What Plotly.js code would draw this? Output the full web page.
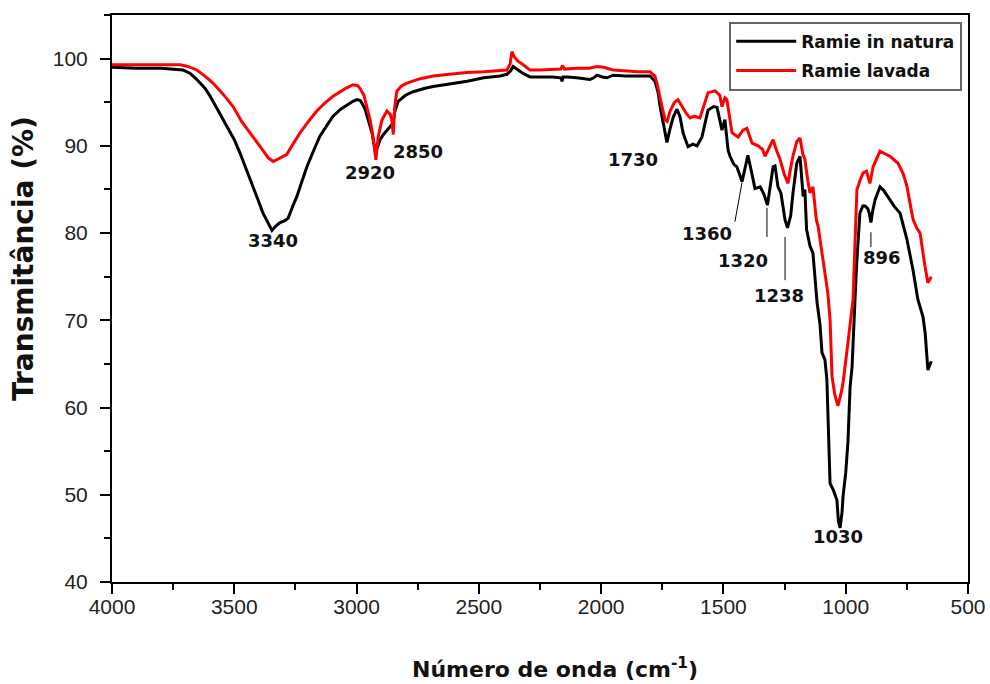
<!DOCTYPE html>
<html>
<head>
<meta charset="utf-8">
<script src="https://cdn.plot.ly/plotly-3.0.1.min.js"></script>
<style>
html,body{margin:0;padding:0;background:#fff;}
#chart{width:990px;height:684px;}
</style>
</head>
<body>
<div id="chart"></div>
<script>
// Ramie in natura (black)
const naturaWave = [4000,3900,3800,3750,3710,3680,3653,3620,3599,3565,3530,3500,3477,3450,3423,3400,3383,3360,3346,3330,3313,3295,3280,3262,3244,3225,3203,3175,3150,3120,3096,3065,3039,3015,2998,2985,2978,2965,2957,2945,2937,2928,2922,2915,2904,2890,2876,2862,2851,2845,2830,2800,2769,2720,2687,2620,2548,2480,2413,2385,2370,2360,2345,2319,2291,2250,2200,2165,2160,2155,2140,2100,2060,2046,2030,2017,1995,1976,1951,1900,1850,1800,1780,1767,1759,1747,1731,1718,1705,1690,1678,1665,1645,1625,1608,1588,1563,1540,1526,1506,1494,1481,1473,1458,1445,1424,1412,1400,1385,1371,1350,1335,1320,1297,1289,1277,1265,1248,1238,1225,1216,1200,1187,1174,1167,1160,1146,1134,1117,1105,1097,1085,1077,1072,1064,1050,1036,1030,1023,1015,1011,1000,991,982,974,962,955,942,930,921,910,903,897,890,880,860,845,819,800,778,765,750,725,705,684,675,664,655,650];
const naturaT = [99.0,98.9,98.9,98.8,98.7,98.3,97.6,96.6,95.7,94.0,92.2,90.7,89.2,87.3,85.3,83.6,82.3,81.0,80.3,80.8,81.2,81.4,81.7,83.0,84.2,85.8,87.6,89.5,91.1,92.4,93.4,94.2,94.7,95.1,95.3,95.2,94.9,94.2,93.4,92.4,91.5,90.2,89.5,89.8,90.7,91.3,91.8,92.3,92.6,93.8,95.1,95.8,96.2,96.6,96.8,97.1,97.4,97.8,98.0,98.2,98.6,99.1,98.8,98.3,97.9,97.9,97.9,97.8,97.4,97.9,97.9,97.8,97.7,97.6,97.8,98.1,97.9,97.8,98.1,98.0,98.0,98.0,97.4,96.1,94.5,92.6,90.4,92.0,93.3,94.2,93.4,91.5,89.9,90.2,90.0,91.0,94.1,94.5,94.4,91.8,93.0,89.5,88.8,87.9,87.6,85.9,87.5,88.9,87.0,85.1,85.3,84.5,83.2,87.6,87.7,85.3,84.6,81.5,80.6,82.0,84.5,88.0,88.8,84.2,85.0,80.4,78.5,77.7,72.0,69.5,66.3,65.5,63.2,58.6,51.3,50.5,49.4,47.0,46.2,48.0,49.8,52.5,56.0,62.4,64.7,72.4,76.6,82.3,83.1,83.1,82.8,82.2,81.2,82.5,83.8,85.3,84.9,83.8,83.0,82.3,81.0,79.3,75.8,72.4,70.4,68.5,64.3,65.1,65.3];

// Ramie lavada (red)
const lavadaWave = [4000,3900,3800,3720,3690,3653,3620,3587,3545,3505,3470,3436,3410,3383,3360,3341,3320,3286,3260,3231,3200,3163,3130,3096,3050,3015,2995,2986,2970,2957,2945,2937,2928,2921,2912,2896,2876,2862,2855,2850,2844,2835,2815,2794,2740,2687,2620,2548,2480,2413,2385,2372,2365,2355,2340,2319,2291,2250,2200,2165,2158,2150,2100,2050,2017,1990,1951,1900,1850,1800,1780,1772,1759,1751,1739,1730,1718,1700,1686,1665,1649,1636,1620,1596,1580,1563,1534,1515,1506,1494,1486,1475,1465,1440,1420,1404,1383,1358,1340,1330,1310,1297,1283,1269,1252,1236,1225,1216,1200,1187,1175,1167,1155,1146,1134,1120,1113,1093,1080,1073,1064,1056,1045,1032,1020,1011,991,970,962,954,942,929,915,901,888,870,860,840,819,786,765,750,725,710,696,676,664,650];
const lavadaT = [99.3,99.3,99.3,99.3,99.1,98.7,98.0,97.2,95.9,94.5,92.8,91.5,90.4,89.4,88.6,88.2,88.5,89.0,90.2,91.5,92.7,94.0,94.9,95.7,96.5,97.0,96.9,96.6,95.8,94.5,93.0,91.8,90.0,88.4,91.0,93.0,94.0,93.6,92.8,91.3,94.5,96.3,96.9,97.2,97.7,98.0,98.2,98.4,98.5,98.7,98.7,99.4,100.8,100.2,99.7,99.3,98.7,98.7,98.8,98.8,99.2,98.8,98.9,98.9,99.1,99.0,98.7,98.6,98.5,98.5,98.0,97.2,95.7,94.5,93.0,92.8,94.0,95.0,95.3,94.3,93.6,93.2,93.4,93.2,94.5,96.1,96.3,95.8,94.5,95.5,95.3,93.0,91.5,91.0,91.8,92.0,90.3,90.0,89.6,88.8,90.0,90.7,89.5,88.5,86.8,85.7,87.5,88.8,90.5,90.9,89.0,88.5,86.0,84.6,85.3,81.5,80.8,77.0,74.5,73.1,70.1,63.6,61.5,60.2,61.5,62.8,67.4,72.4,79.0,85.0,86.0,86.9,87.1,85.7,87.6,88.8,89.4,89.1,88.8,88.0,86.8,85.4,81.6,80.6,80.0,76.2,74.3,75.0];

// Peak labels
const peakLabels = ['3340','2920','2850','1730','1360','1320','1238','896','1030'];
const xTickVals = [4000,3500,3000,2500,2000,1500,1000,500];
const yTickVals = [40,50,60,70,80,90,100];
const xTitle = 'Número de onda (cm<sup>-1</sup>)';
const yTitle = 'Transmitância (%)';

const FONT = 'Arial, "Liberation Sans", sans-serif';
const WIDE = '"DejaVu Sans", Verdana, sans-serif';

const traces = [
  {x: naturaWave, y: naturaT, type: 'scatter', mode: 'lines', name: 'Ramie in natura',
   legendgroup: 'a', line: {color: '#000000', width: 3}},
  {x: lavadaWave, y: lavadaT, type: 'scatter', mode: 'lines', name: 'Ramie lavada',
   legendgroup: 'b', line: {color: '#ff0000', width: 3}}
];

// label placements (layout only)
const labelPos = [[3340,79.1],[2945,87.0],[2749,89.3],[1870,88.4],[1567,79.9],[1420,76.8],[1273,72.8],[852,77.2],[1032,45.2]];
const annotations = peakLabels.map((t,i)=>({
  x: labelPos[i][0], y: labelPos[i][1], xref:'x', yref:'y', text: t, showarrow:false,
  font:{family: WIDE, size: 18, color:'#111', weight: 'bold'}, xanchor:'center', yanchor:'middle'
}));
annotations.push({
  x: (555-112)/856, y: (582-668)/567, xref:'paper', yref:'paper', text: xTitle, showarrow:false,
  xanchor:'center', yanchor:'middle',
  font:{family: WIDE, size: 22, color:'#111', weight:'bold'}
});
annotations.push({
  x: (23-112)/856, y: (582-259)/567, xref:'paper', yref:'paper', text: yTitle, showarrow:false,
  xanchor:'center', yanchor:'middle', textangle: -90,
  font:{family: WIDE, size: 28, color:'#111', weight:'bold'}
});

const leader = (x0,y0,x1,y1)=>({type:'line', xref:'x', yref:'y', x0:x0, y0:y0, x1:x1, y1:y1, line:{color:'#000', width:1}});
const shapes = [
  leader(1453,81.3,1424,85.8),
  leader(1322,79.55,1322,82.9),
  leader(1248,74.6,1248,79.55),
  leader(897,78.4,897,80.1)
];

const layout = {
  width: 990, height: 684,
  margin: {l: 112, r: 22, t: 15, b: 102},
  paper_bgcolor: '#fff', plot_bgcolor: '#fff',
  font: {family: FONT, color: '#111'},
  showlegend: true,
  legend: {x: 0.721, y: 0.988, xanchor: 'left', yanchor: 'top',
    bgcolor: '#fff', bordercolor: '#666', borderwidth: 2,
    font: {family: WIDE, size: 17, color: '#111', weight: 'bold'},
    itemwidth: 60, tracegroupgap: 4},
  xaxis: {
    range: [4000, 500], autorange: false,
    tickvals: xTickVals, ticks: 'outside', ticklen: 10, tickwidth: 2, tickcolor: '#000',
    minor: {dtick: 250, tick0: 500, ticks: 'outside', ticklen: 6, tickwidth: 2, tickcolor: '#000', showgrid: false},
    showline: true, linecolor: '#000', linewidth: 2, mirror: true,
    showgrid: false, zeroline: false, ticklabelstandoff: -5,
    tickfont: {family: FONT, size: 21, color: '#222'}
  },
  yaxis: {
    range: [40, 105], autorange: false,
    tickvals: yTickVals, ticks: 'outside', ticklen: 10, tickwidth: 2, tickcolor: '#000',
    minor: {dtick: 5, tick0: 40, ticks: 'outside', ticklen: 6, tickwidth: 2, tickcolor: '#000', showgrid: false},
    showline: true, linecolor: '#000', linewidth: 2, mirror: true,
    showgrid: false, zeroline: false, ticklabelstandoff: 8,
    tickfont: {family: FONT, size: 21, color: '#222'}
  },
  annotations: annotations,
  shapes: shapes
};

Plotly.newPlot('chart', traces, layout, {displayModeBar: false, staticPlot: true});
</script>
</body>
</html>
